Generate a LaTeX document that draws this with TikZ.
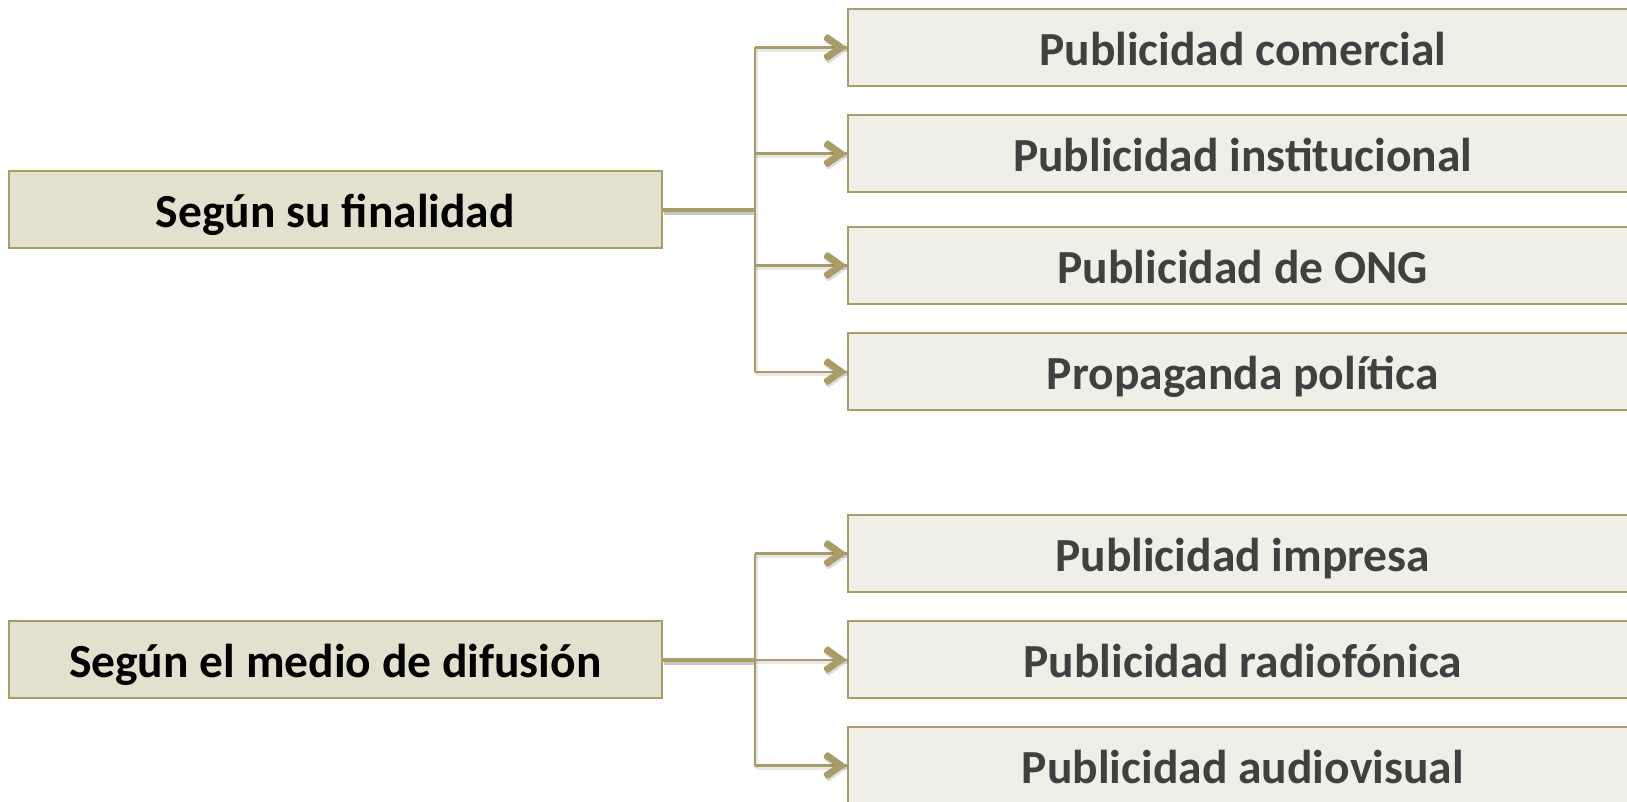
\documentclass[tikz,border=0pt]{standalone}
\usepackage{fontspec}
\setmainfont{Carlito}

\definecolor{edgeolive}{RGB}{168,157,104}
\definecolor{catfill}{RGB}{227,224,206}
\definecolor{itemfill}{RGB}{239,238,231}
\definecolor{itemtext}{RGB}{64,64,64}

\tikzset{
  boxtext/.style={font=\fontsize{47.5}{52}\selectfont\bfseries,
    text height=36pt, text depth=0pt},
  catbox/.style={draw=edgeolive, line width=1.8pt, fill=catfill, inner sep=0pt,
    minimum width=652.7pt, minimum height=77pt, boxtext, text=black},
  itembox/.style={draw=edgeolive, line width=1.8pt, fill=itemfill, inner sep=0pt,
    minimum width=790pt, minimum height=77pt, boxtext, text=itemtext},
  % drop shadow: a faint dark copy moved down and right
  dropshadow/.style={draw=black, draw opacity=#1,
    transform canvas={shift={(1,2.5)}}},
  trunkline/.style={draw=edgeolive, line width=4.2pt},
  trunkshadow/.style={dropshadow=0.22, line width=6pt},
  spineline/.style={draw=edgeolive, line width=2.4pt},
  spineshadow/.style={dropshadow=0.09, line width=4pt},
  % open arrowhead (a thick chevron) whose tip sits at the pic's origin
  chevron/.pic={
    \fill[black, fill opacity=0.13, rounded corners=1.5pt,
          transform canvas={shift={(1,2.5)}}]
      (0,0) -- (-19.6,-14) -- (-24,-8.2) -- (-11.5,0)
      -- (-24,8.2) -- (-19.6,14) -- cycle;
    \fill[edgeolive, rounded corners=1.5pt]
      (0,0) -- (-19.6,-14) -- (-24,-8.2) -- (-11.5,0)
      -- (-24,8.2) -- (-19.6,14) -- cycle;
  },
}

\begin{document}
\begin{tikzpicture}[x=1pt, y=-1pt]
\useasboundingbox (0,0) rectangle (1627,802);
\clip (0,0) rectangle (1627,802);

% category boxes
\node[catbox] (c1) at (335.3,209.7) {Según su finalidad};
\node[catbox] (c2) at (335.3,659.7) {Según el medio de difusión};

% item boxes (they run past the right edge)
\node[itembox] (r1) at (1242.7,47.5)  {Publicidad comercial};
\node[itembox] (r2) at (1242.7,153.7) {Publicidad institucional};
\node[itembox] (r3) at (1242.7,265.5) {Publicidad de ONG};
\node[itembox] (r4) at (1242.7,371.7) {Propaganda política};
\node[itembox] (r5) at (1242.7,553.5) {Publicidad impresa};
\node[itembox] (r6) at (1242.7,659.7) {Publicidad radiofónica};
\node[itembox] (r7) at (1242.7,765.5) {Publicidad audiovisual};

% spine positions
\coordinate (s1) at (754.7,209.7);
\coordinate (s2) at (754.7,659.7);

% shadows first
\draw[spineshadow] (s1 |- r1.west) -- (s1 |- r4.west);
\draw[spineshadow] (s2 |- r5.west) -- (s2 |- r7.west);
\draw[trunkshadow] (c1.east) -- (s1);
\draw[trunkshadow] (c2.east) -- (s2);
\foreach \r in {r1,r2,r3,r4}
  \draw[spineshadow] (s1 |- \r.west) -- (\r.west);
\foreach \r in {r5,r6,r7}
  \draw[spineshadow] (s2 |- \r.west) -- (\r.west);

% first group
\draw[spineline] (s1 |- r1.west) -- (s1 |- r4.west);
\draw[trunkline] (c1.east) -- (s1);
\foreach \r in {r1,r2,r3,r4}{
  \draw[spineline] (s1 |- \r.west) -- (\r.west);
  \pic at (\r.west) {chevron};
}

% second group
\draw[spineline] (s2 |- r5.west) -- (s2 |- r7.west);
\draw[trunkline] (c2.east) -- (s2);
\foreach \r in {r5,r6,r7}{
  \draw[spineline] (s2 |- \r.west) -- (\r.west);
  \pic at (\r.west) {chevron};
}
\end{tikzpicture}
\end{document}
